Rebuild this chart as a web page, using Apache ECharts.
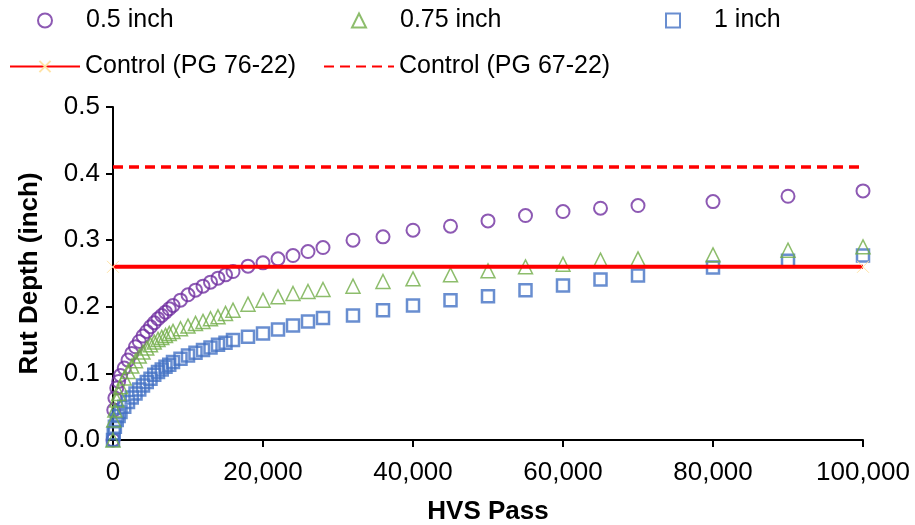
<!DOCTYPE html>
<html>
<head>
<meta charset="utf-8">
<script src="https://cdn.jsdelivr.net/npm/echarts@6/dist/echarts.min.js"></script>
<style>
  html, body { margin: 0; padding: 0; background: #fff; }
  #rut_chart { width: 915px; height: 525px; }
</style>
</head>
<body>
<div id="rut_chart"></div>
<script>
    // HVS passes at which rut depth was read (shared by the three overlays)
    var passes = [0, 100, 250, 500, 750, 1000, 1500, 2000, 2500, 3000, 3500, 4000, 4500, 5000,
        5500, 6000, 6500, 7000, 7500, 8000, 9000, 10000, 11000, 12000, 13000, 14000, 15000, 16000,
        18000, 20000, 22000, 24000, 26000, 28000, 32000, 36000, 40000, 45000, 50000, 55000,
        60000, 65000, 70000, 80000, 90000, 100000];

    var rutHalfInch = [0, 0.045, 0.063, 0.078, 0.088, 0.097, 0.108, 0.12, 0.13, 0.14, 0.148, 0.156, 0.163, 0.17,
        0.176, 0.182, 0.187, 0.192, 0.197, 0.202, 0.21, 0.218, 0.225, 0.231, 0.237, 0.243, 0.248, 0.253,
        0.261, 0.266, 0.272, 0.277, 0.283, 0.289, 0.3, 0.305, 0.315, 0.321, 0.329, 0.337,
        0.343, 0.348, 0.352, 0.358, 0.366, 0.374];

    var rutThreeQuarterInch = [0, 0.03, 0.045, 0.06, 0.07, 0.08, 0.093, 0.103, 0.111, 0.119, 0.126, 0.132, 0.138, 0.143,
        0.147, 0.151, 0.154, 0.157, 0.16, 0.163, 0.167, 0.171, 0.175, 0.178, 0.182, 0.185, 0.19, 0.195,
        0.204, 0.21, 0.215, 0.22, 0.223, 0.226, 0.231, 0.238, 0.242, 0.248, 0.254, 0.26,
        0.264, 0.27, 0.272, 0.278, 0.285, 0.29];

    var rutOneInch = [0, 0.01, 0.02, 0.03, 0.036, 0.042, 0.05, 0.057, 0.064, 0.07, 0.076, 0.082, 0.087, 0.092,
        0.098, 0.102, 0.106, 0.11, 0.113, 0.117, 0.122, 0.127, 0.131, 0.135, 0.139, 0.143, 0.146, 0.15,
        0.155, 0.16, 0.166, 0.172, 0.178, 0.183, 0.187, 0.195, 0.202, 0.21, 0.216, 0.225,
        0.232, 0.241, 0.247, 0.259, 0.269, 0.277];

    // control sections are flat reference lines
    var controlPasses = [0, 100000];
    var controlPG7622 = [0.26, 0.26];
    var controlPG6722 = [0.41, 0.41];

    var seriesNames = ['0.5 inch', '0.75 inch', '1 inch', 'Control (PG 76-22)', 'Control (PG 67-22)'];

    function pairs(xs, ys) {
        return xs.map(function (x, i) { return [x, ys[i]]; });
    }

    var fontFamily = '"Liberation Sans", Arial, sans-serif';

    // marker legend: small icon, text pushed over to line up with the second row
    function markerLegend(name, icon, left) {
        return {
            data: [{ name: name, icon: icon }],
            left: left,
            top: 8,
            padding: 0,
            itemWidth: 14,
            itemHeight: 14,
            selectedMode: false,
            textStyle: { fontSize: 25, color: '#000', fontFamily: fontFamily, padding: [0, 0, 0, 29] }
        };
    }

    function lineLegend(name, left) {
        return {
            data: [name],
            left: left,
            top: 54,
            padding: 0,
            itemWidth: 70,
            itemHeight: 14,
            selectedMode: false,
            textStyle: { fontSize: 25, color: '#000', fontFamily: fontFamily }
        };
    }

    var option = {
        animation: false,
        legend: [
            markerLegend(seriesNames[0], 'circle', 37),
            markerLegend(seriesNames[1], 'triangle', 351),
            markerLegend(seriesNames[2], 'rect', 665),
            lineLegend(seriesNames[3], 9),
            lineLegend(seriesNames[4], 323)
        ],
        grid: { left: 113, right: 52, top: 107, bottom: 85, outerBoundsMode: 'none' },
        xAxis: {
            type: 'value',
            min: 0,
            max: 100000,
            interval: 20000,
            name: 'HVS Pass',
            nameLocation: 'middle',
            nameGap: 59,
            nameTextStyle: { fontSize: 26, fontWeight: 'bold', color: '#000', fontFamily: fontFamily },
            axisLine: { lineStyle: { color: '#000', width: 2 } },
            axisTick: { show: true, length: 7, lineStyle: { color: '#000', width: 2 } },
            axisLabel: {
                fontSize: 26, color: '#000', fontFamily: fontFamily, margin: 20,
                formatter: function (v) { return v.toLocaleString('en-US'); }
            },
            splitLine: { show: false }
        },
        yAxis: {
            type: 'value',
            min: 0,
            max: 0.5,
            interval: 0.1,
            name: 'Rut Depth (inch)',
            nameLocation: 'middle',
            nameGap: 70,
            nameTextStyle: { fontSize: 26, fontWeight: 'bold', color: '#000', fontFamily: fontFamily },
            axisLine: { show: true, lineStyle: { color: '#000', width: 2 } },
            axisTick: { show: true, length: 7, lineStyle: { color: '#000', width: 2 } },
            axisLabel: {
                fontSize: 26, color: '#000', fontFamily: fontFamily, margin: 13,
                formatter: function (v) { return v.toFixed(1); }
            },
            splitLine: { show: false }
        },
        series: [
            {
                name: seriesNames[0],
                type: 'scatter',
                symbol: 'circle',
                symbolSize: 13,
                itemStyle: { color: 'rgba(0,0,0,0)', borderColor: '#7030A0', borderWidth: 2 },
                data: pairs(passes, rutHalfInch)
            },
            {
                name: seriesNames[2],
                type: 'scatter',
                symbol: 'rect',
                symbolSize: 12,
                itemStyle: { color: 'rgba(0,0,0,0)', borderColor: '#4472C4', borderWidth: 2.5 },
                data: pairs(passes, rutOneInch)
            },
            {
                name: seriesNames[1],
                type: 'scatter',
                symbol: 'triangle',
                symbolSize: 14,
                itemStyle: { color: 'rgba(0,0,0,0)', borderColor: '#70AD47', borderWidth: 1.5 },
                data: pairs(passes, rutThreeQuarterInch)
            },
            {
                name: seriesNames[3],
                type: 'line',
                symbol: 'path://M0,0L10,10M10,0L0,10',
                symbolSize: 12,
                showSymbol: true,
                itemStyle: { color: 'rgba(0,0,0,0)', borderColor: '#FFE3A6', borderWidth: 1 },
                lineStyle: { color: '#FF0000', width: 4 },
                data: pairs(controlPasses, controlPG7622)
            },
            {
                name: seriesNames[4],
                type: 'line',
                symbol: 'circle',
                showSymbol: false,
                itemStyle: { color: 'rgba(0,0,0,0)', borderColor: 'rgba(0,0,0,0)', borderWidth: 0 },
                lineStyle: { color: '#FF0000', width: 3.5, type: [10, 6] },
                data: pairs(controlPasses, controlPG6722)
            }
        ]
    };

    var rutChart = echarts.init(document.getElementById('rut_chart'));
    rutChart.setOption(option);
</script>
</body>
</html>
